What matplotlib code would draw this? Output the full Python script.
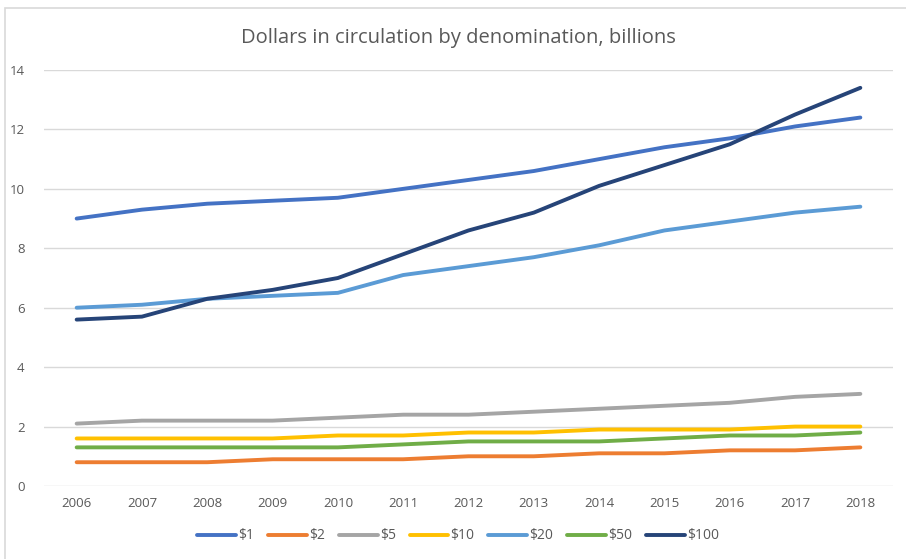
import matplotlib
matplotlib.use("Agg")
import matplotlib.pyplot as plt
from matplotlib.patches import Rectangle

years = list(range(2006, 2019))
labels = ["$1", "$2", "$5", "$10", "$20", "$50", "$100"]
colors = ["#4472C4", "#ED7D31", "#A5A5A5", "#FFC000", "#5B9BD5", "#70AD47", "#264478"]

usd_1 = [9.0, 9.3, 9.5, 9.6, 9.7, 10.0, 10.3, 10.6, 11.0, 11.4, 11.7, 12.1, 12.4]
usd_2 = [0.8, 0.8, 0.8, 0.9, 0.9, 0.9, 1.0, 1.0, 1.1, 1.1, 1.2, 1.2, 1.3]
usd_5 = [2.1, 2.2, 2.2, 2.2, 2.3, 2.4, 2.4, 2.5, 2.6, 2.7, 2.8, 3.0, 3.1]
usd_10 = [1.6, 1.6, 1.6, 1.6, 1.7, 1.7, 1.8, 1.8, 1.9, 1.9, 1.9, 2.0, 2.0]
usd_20 = [6.0, 6.1, 6.3, 6.4, 6.5, 7.1, 7.4, 7.7, 8.1, 8.6, 8.9, 9.2, 9.4]
usd_50 = [1.3, 1.3, 1.3, 1.3, 1.3, 1.4, 1.5, 1.5, 1.5, 1.6, 1.7, 1.7, 1.8]
usd_100 = [5.6, 5.7, 6.3, 6.6, 7.0, 7.8, 8.6, 9.2, 10.1, 10.8, 11.5, 12.5, 13.4]

series = [usd_1, usd_2, usd_5, usd_10, usd_20, usd_50, usd_100]

plt.rcParams["font.family"] = ["Open Sans", "DejaVu Sans"]
text_color = "#595959"

fig = plt.figure(figsize=(9.06, 5.59), dpi=100)
W, H = 906, 559
ax = fig.add_axes([44 / W, 1 - 486 / H, (893 - 44) / W, (486 - 70) / H])

# chart area border
fig.patches.append(Rectangle((5 / W, -0.1), 1.2, 1 - 8 / H + 0.1, transform=fig.transFigure,
                             fill=False, edgecolor="#D9D9D9", linewidth=1.2))

for vals, lab, c in zip(series, labels, colors):
    ax.plot(years, vals, color=c, linewidth=2.8, label=lab, solid_capstyle="round",
            solid_joinstyle="round", clip_on=False, zorder=3)

ax.set_xlim(2005.5, 2018.5)
ax.set_ylim(0, 14)
ax.set_xticks(years)
ax.set_yticks(range(0, 15, 2))
ax.grid(axis="y", color="#D9D9D9", linewidth=1.0)
ax.set_axisbelow(True)
for s in ax.spines.values():
    s.set_visible(False)
ax.tick_params(length=0, labelsize=9.5, colors=text_color)
ax.tick_params(axis="y", pad=14)
ax.tick_params(axis="x", pad=8)

fig.text(458 / W, 1 - 38 / H, "Dollars in circulation by denomination, billions",
         ha="center", va="center", fontsize=14.5, color=text_color)

fig.legend(loc="center", bbox_to_anchor=(458 / W, 1 - 536 / H), ncol=7, frameon=False,
           fontsize=10, handlelength=2.8, handletextpad=0.15, columnspacing=1.0,
           labelcolor=text_color)

fig.savefig("out.png", dpi=100)
